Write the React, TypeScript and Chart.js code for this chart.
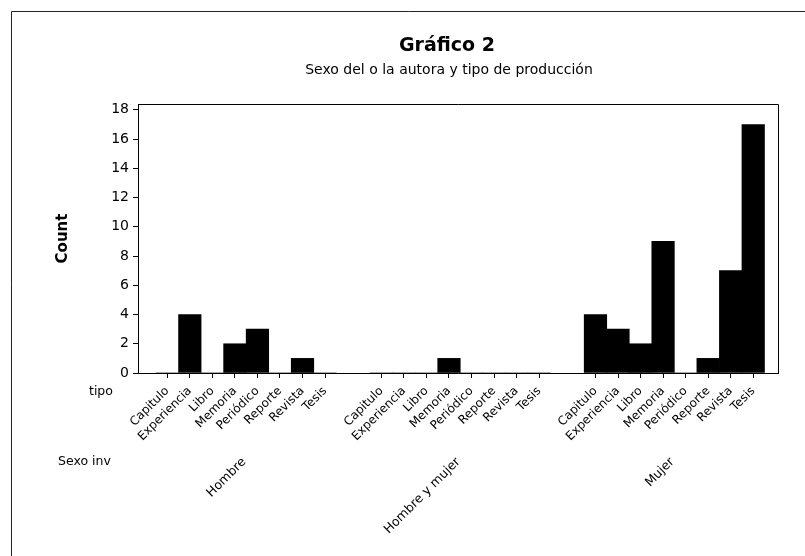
import React, { useEffect, useRef } from "react";
import { Chart, registerables } from "chart.js";

Chart.register(...registerables);

const TITLE = "Gráfico 2";
const SUBTITLE = "Sexo del o la autora y tipo de producción";
const Y_TITLE = "Count";
const INNER_FACTOR = "tipo";
const OUTER_FACTOR = "Sexo inv";

const tipos = ["Capitulo", "Experiencia", "Libro", "Memoria", "Periódico", "Reporte", "Revista", "Tesis"];
const grupos = ["Hombre", "Hombre y mujer", "Mujer"];
const hombre = [0, 4, 0, 2, 3, 0, 1, 0];
const hombreMujer = [0, 0, 0, 1, 0, 0, 0, 0];
const mujer = [4, 3, 2, 9, 0, 1, 7, 17];
const yTicks = [0, 2, 4, 6, 8, 10, 12, 14, 16, 18];

const groupValues = [hombre, hombreMujer, mujer];
const GROUP_STRIDE = tipos.length + 1.5; // gap between clusters (in category slots)

const FONT = '"DejaVu Sans", sans-serif';

function slotPos(g: number, t: number) {
  return g * GROUP_STRIDE + t;
}

export default function App() {
  const ref = useRef<HTMLCanvasElement | null>(null);

  useEffect(() => {
    if (!ref.current) return;
    const points: { x: number; y: number }[] = [];
    const tickPositions: number[] = [];
    const tickNames: string[] = [];
    groupValues.forEach((vals, g) => {
      vals.forEach((v, t) => {
        points.push({ x: slotPos(g, t), y: v });
        tickPositions.push(slotPos(g, t));
        tickNames.push(tipos[t]);
      });
    });

    const overlay = {
      id: "overlay",
      afterDraw(chart: any) {
        const { ctx, chartArea: a, scales } = chart;
        const xs = scales.x;
        ctx.save();
        ctx.strokeStyle = "#000";
        ctx.lineWidth = 1;
        ctx.beginPath();
        ctx.moveTo(a.left, Math.round(a.top) + 0.5);
        ctx.lineTo(Math.round(a.right) + 0.5, Math.round(a.top) + 0.5);
        ctx.lineTo(Math.round(a.right) + 0.5, a.bottom);
        ctx.stroke();
        ctx.strokeStyle = "#222";
        ctx.beginPath();
        ctx.moveTo(11.5, 556);
        ctx.lineTo(11.5, 11.5);
        ctx.lineTo(805, 11.5);
        ctx.stroke();

        ctx.fillStyle = "#000";
        ctx.textAlign = "center";
        ctx.textBaseline = "middle";
        ctx.font = `bold 19px ${FONT}`;
        ctx.fillText(TITLE, 447, 46);
        ctx.font = `14px ${FONT}`;
        ctx.fillText(SUBTITLE, 449, 70);

        ctx.textAlign = "left";
        ctx.font = `12.5px ${FONT}`;
        ctx.fillText(INNER_FACTOR, 89, 392);
        ctx.fillText(OUTER_FACTOR, 58, 462);

        grupos.forEach((name, g) => {
          const c = (xs.getPixelForValue(slotPos(g, 0)) + xs.getPixelForValue(slotPos(g, tipos.length - 1))) / 2;
          ctx.save();
          ctx.translate(c - 2, 460);
          ctx.rotate(-Math.PI / 4);
          ctx.textAlign = "right";
          ctx.textBaseline = "middle";
          ctx.fillText(name, 0, 0);
          ctx.restore();
        });
        ctx.restore();
      },
    };

    const chart = new Chart(ref.current, {
      type: "bar",
      data: {
        datasets: [
          {
            data: points,
            backgroundColor: "#000",
            borderWidth: 0,
            barPercentage: 1,
            categoryPercentage: 1,
          },
        ],
      },
      options: {
        animation: false,
        responsive: false,
        layout: { padding: { left: 50, right: 27, top: 104, bottom: 0 } },
        plugins: {
          legend: { display: false },
          tooltip: { enabled: false },
          title: { display: false },
        },
        scales: {
          x: {
            type: "linear",
            offset: false,
            min: -1.3,
            max: 26 + 1.1,
            afterBuildTicks: (scale: any) => {
              scale.ticks = tickPositions.map((v) => ({ value: v }));
            },
            afterFit: (scale: any) => {
              scale.height = 556 - 373;
            },
            grid: {
              offset: false,
              drawOnChartArea: false,
              drawTicks: true,
              tickLength: 5,
              color: "#000",
            },
            border: { display: true, color: "#000", width: 1 },
            ticks: {
              autoSkip: false,
              minRotation: 45,
              maxRotation: 45,
              padding: 6,
              color: "#000",
              font: { family: FONT, size: 12 },
              callback: (_v: any, i: number) => tickNames[i],
            },
          },
          y: {
            min: 0,
            max: 18.4,
            afterBuildTicks: (scale: any) => {
              scale.ticks = yTicks.map((v) => ({ value: v }));
            },
            afterFit: (scale: any) => {
              scale.width = 88;
            },
            grid: {
              drawOnChartArea: false,
              drawTicks: true,
              tickLength: 5,
              color: "#000",
            },
            border: { display: true, color: "#000", width: 1 },
            ticks: {
              padding: 4,
              color: "#000",
              font: { family: FONT, size: 14 },
            },
            title: {
              display: true,
              text: Y_TITLE,
              color: "#000",
              font: { family: FONT, size: 15, weight: "bold" },
              padding: { top: 4, bottom: 4 },
            },
          },
        },
      },
      plugins: [overlay],
    });
    return () => chart.destroy();
  }, []);

  return (
    <div style={{ position: "absolute", left: 0, top: 0, width: 805, height: 556, background: "#fff" }}>
      <canvas ref={ref} width={805} height={556} style={{ display: "block" }} />
    </div>
  );
}
